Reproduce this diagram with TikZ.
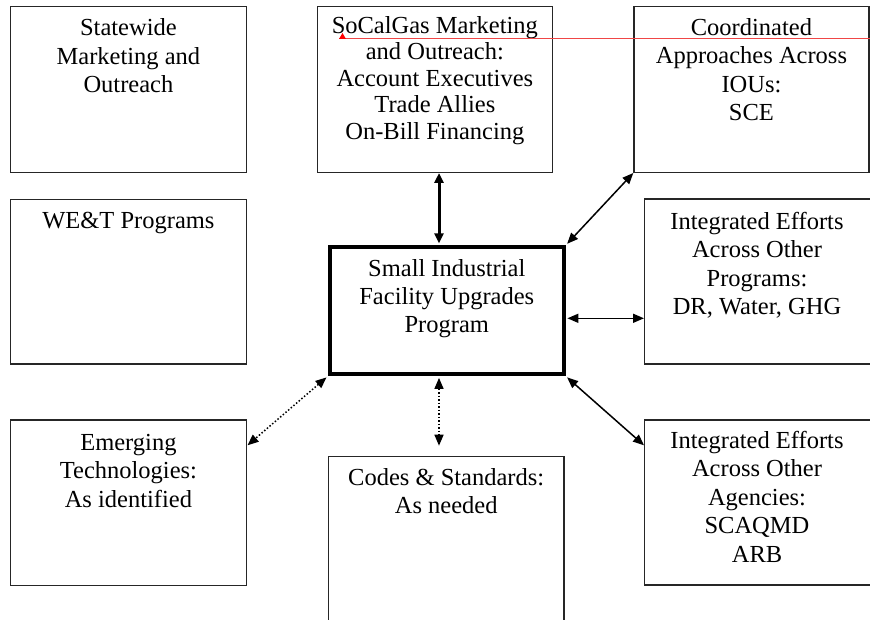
\documentclass[tikz,border=0pt]{standalone}
\usepackage{fontspec}
\setmainfont{Liberation Serif}
\usetikzlibrary{arrows.meta,calc}
\newcommand\fr{\rule{0pt}{18pt}}
\definecolor{cmtred}{RGB}{240,70,70}
\begin{document}
\begin{tikzpicture}[x=1pt,y=-1pt,
  box/.style={draw=black!85, line width=1.3pt, rectangle, inner sep=0pt, anchor=north west},
  mainbox/.style={draw=black, line width=3.6pt, rectangle, inner sep=0pt, anchor=north west},
  txt/.style={anchor=north, align=center, inner sep=0pt, font=\fontsize{24.5}{28.4}\selectfont},
  txttight/.style={anchor=north, align=center, inner sep=0pt, font=\fontsize{24.5}{26.4}\selectfont},
  twoway/.style={line width=1.5pt, {Triangle[length=11pt,width=9pt]}-{Triangle[length=11pt,width=9pt]}},
  twowaythick/.style={line width=3pt, {Triangle[length=10pt,width=9pt]}-{Triangle[length=10pt,width=9pt]}},
  dotway/.style={line width=1.5pt, dotted, {Triangle[length=11pt,width=9pt]}-{Triangle[length=11pt,width=9pt]}}
]
\useasboundingbox (0,0) rectangle (870,620);

% boxes
\node[box, minimum width=235.5, minimum height=166] (sw) at (10,5.7) {};
\node[box, minimum width=235,   minimum height=166] (sc) at (316.7,5.7) {};
\node[box, minimum width=235,   minimum height=166] (co) at (633.3,5.7) {};
\node[box, minimum width=235.5, minimum height=164.6] (we) at (10,198.7) {};
\node[box, minimum width=240,   minimum height=165] (pr) at (644,198.3) {};
\node[mainbox, minimum width=234, minimum height=127] (ce) at (328,245.3) {};
\node[box, minimum width=235.5, minimum height=165.7] (em) at (10,419.3) {};
\node[box, minimum width=240,   minimum height=165] (ag) at (644,419.3) {};
\node[inner sep=0pt, minimum width=235, minimum height=170, anchor=north west] (cs) at (328.5,456.7) {};
\draw[black!85, line width=1.3pt] (cs.south west) -- (cs.north west) -- (cs.north east) -- (cs.south east);

% texts
\node[txt] (swt) at ($(sw.north)+(0,12)$) {\fr Statewide\\Marketing and\\Outreach};
\node[txttight] (sct) at ($(sc.north)+(0,9.6)$) {\fr SoCalGas Marketing\\and Outreach:\\Account Executives\\Trade Allies\\On-Bill Financing};
\node[txt] (cot) at ($(co.north)+(0,11.6)$) {\fr Coordinated\\Approaches Across\\IOUs:\\SCE};
\node[txt] (wet) at ($(we.north)+(0,12)$) {\fr WE\&T Programs};
\node[txt] (prt) at ($(pr.north west)+(113,13)$) {\fr Integrated Efforts\\Across Other\\Programs:\\DR, Water, GHG};
\node[txt] (cet) at ($(ce.north)+(0,12.7)$) {\fr Small Industrial\\Facility Upgrades\\Program};
\node[txt] (emt) at ($(em.north)+(0,13)$) {\fr Emerging\\Technologies:\\As identified};
\node[txt] (agt) at ($(ag.north west)+(113,11)$) {\fr Integrated Efforts\\Across Other\\Agencies:\\SCAQMD\\ARB};
\node[txt] (cst) at ($(cs.north)+(0,10.6)$) {\fr Codes \& Standards:\\As needed};

% comment marker
\coordinate (rm) at (339,39);
\coordinate (re) at (870,39);
\draw[cmtred, line width=1pt] (rm) -- (re);
\fill[red] (rm) -- ++(3.5,-6) -- ++(3.5,6) -- cycle;

% connectors
\coordinate (ax) at (439,0);
\draw[twowaythick] (sc.south -| ax) -- ($(ce.north -| ax)+(0,-2)$);
\draw[twoway] ($(ce.north east)+(1.5,-1.5)$) -- (co.south west);
\coordinate (py) at (0,318.3);
\draw[twoway] ($(ce.east |- py)+(1.8,0)$) -- (pr.west |- py);
\draw[twoway] ($(ce.south east)+(1.5,1.5)$) -- ($(ag.north west)+(0,26)$);
\draw[dotway] ($(ce.south west)+(-1.5,1.5)$) -- ($(em.north east)+(0.7,26)$);
\draw[dotway] ($(ce.south -| ax)+(0,2)$) -- ($(cs.north -| ax)+(0,-11)$);
\end{tikzpicture}
\end{document}
